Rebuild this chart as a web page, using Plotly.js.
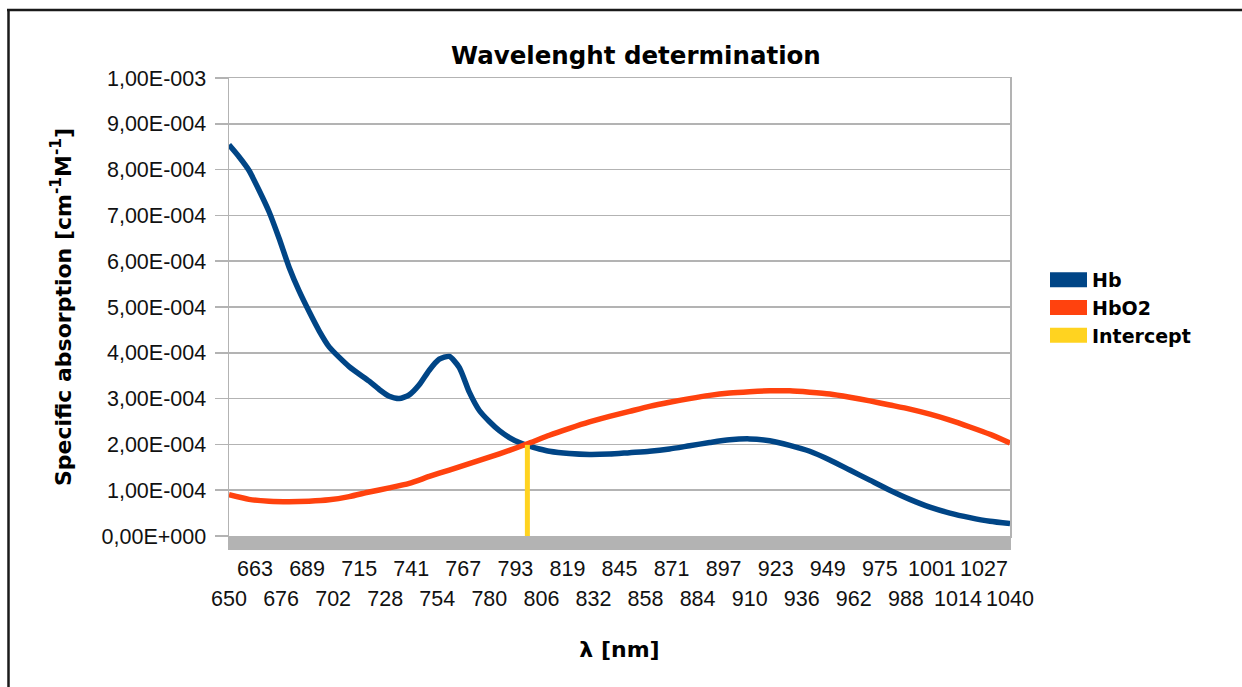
<!DOCTYPE html>
<html>
<head>
<meta charset="utf-8">
<script src="https://cdn.plot.ly/plotly-3.0.1.min.js"></script>
<style>
  html, body { margin: 0; padding: 0; background: #fff; }
  #chart { width: 1242px; height: 687px; }
  .legendlines path { stroke-width: 15px !important; stroke-linecap: butt !important; }
</style>
</head>
<body>
<div id="chart"></div>
<script>
// ---- data ----
const hbWavelength = [650,655,660,665,670,675,680,685,690,695,700,710,720,725,730,735,740,745,750,755,760,765,770,775,780,785,790,795,800,805,810,820,830,840,850,860,870,880,890,900,910,920,930,940,950,960,970,980,990,1000,1010,1020,1030,1040];
const hbValues = [8.54e-4,8.28e-4,7.98e-4,7.55e-4,7.08e-4,6.50e-4,5.87e-4,5.35e-4,4.90e-4,4.48e-4,4.13e-4,3.70e-4,3.38e-4,3.20e-4,3.05e-4,3.00e-4,3.08e-4,3.30e-4,3.62e-4,3.86e-4,3.92e-4,3.68e-4,3.14e-4,2.74e-4,2.50e-4,2.30e-4,2.15e-4,2.04e-4,1.96e-4,1.90e-4,1.85e-4,1.80e-4,1.78e-4,1.79e-4,1.82e-4,1.85e-4,1.90e-4,1.97e-4,2.04e-4,2.10e-4,2.12e-4,2.08e-4,1.98e-4,1.85e-4,1.66e-4,1.44e-4,1.22e-4,1.00e-4,0.80e-4,0.63e-4,0.50e-4,0.40e-4,0.32e-4,0.27e-4];

const hbo2Wavelength = [650,660,670,680,690,700,710,720,730,740,750,760,770,780,790,800,810,820,830,840,850,860,870,880,890,900,910,920,930,940,950,960,970,980,990,1000,1010,1020,1030,1040];
const hbo2Values = [0.90e-4,0.80e-4,0.76e-4,0.75e-4,0.76e-4,0.79e-4,0.86e-4,0.96e-4,1.05e-4,1.15e-4,1.30e-4,1.44e-4,1.58e-4,1.72e-4,1.87e-4,2.03e-4,2.20e-4,2.35e-4,2.49e-4,2.61e-4,2.72e-4,2.83e-4,2.92e-4,3.00e-4,3.07e-4,3.12e-4,3.15e-4,3.17e-4,3.17e-4,3.14e-4,3.10e-4,3.03e-4,2.95e-4,2.86e-4,2.77e-4,2.66e-4,2.53e-4,2.38e-4,2.22e-4,2.03e-4];

const interceptWavelength = [799, 799];
const interceptValues = [0, 1.99e-4];

const yTickValues = [0, 1e-4, 2e-4, 3e-4, 4e-4, 5e-4, 6e-4, 7e-4, 8e-4, 9e-4, 1e-3];
const yTickLabels = ['0,00E+000','1,00E-004','2,00E-004','3,00E-004','4,00E-004','5,00E-004','6,00E-004','7,00E-004','8,00E-004','9,00E-004','1,00E-003'];

const seriesNames = ['Hb', 'HbO2', 'Intercept'];
const seriesColors = ['#004586', '#ff420e', '#ffd320'];

// ---- chart ----
const gridGrey = '#b3b3b3';
const tickFont = { family: 'Liberation Sans, Arial, sans-serif', size: 21.5, color: '#111' };
const boldFont = (s) => ({ family: 'DejaVu Sans, sans-serif', size: s, color: '#000', weight: 700 });

const traces = [
  { x: hbWavelength, y: hbValues, name: seriesNames[0], type: 'scatter', mode: 'lines',
    line: { color: seriesColors[0], width: 5.5, shape: 'spline', smoothing: 0.6 } },
  { x: hbo2Wavelength, y: hbo2Values, name: seriesNames[1], type: 'scatter', mode: 'lines',
    line: { color: seriesColors[1], width: 5.5, shape: 'spline', smoothing: 0.6 } },
  { x: interceptWavelength, y: interceptValues, name: seriesNames[2], type: 'scatter', mode: 'lines',
    xaxis: 'x2', line: { color: seriesColors[2], width: 5 } }
];

const pxX = (p) => (p - 229) / 781;
const pxY = (p) => (536 - p) / 458;

const layout = {
  width: 1242, height: 687,
  margin: { l: 229, r: 232, t: 78, b: 151, pad: 0 },
  paper_bgcolor: '#ffffff', plot_bgcolor: '#ffffff',
  showlegend: true,
  title: { text: 'Wavelenght determination', font: boldFont(24.5),
           x: 0.521, xref: 'paper', xanchor: 'center', y: 1 - 55 / 687, yref: 'container', yanchor: 'middle' },
  xaxis: {
    range: [650, 1040], tickmode: 'linear', tick0: 663, dtick: 26,
    ticks: 'outside', ticklen: 12, tickwidth: 2.5, tickcolor: gridGrey,
    showgrid: false, zeroline: false, showline: true, linecolor: gridGrey, linewidth: 1.5, mirror: true,
    tickfont: tickFont, ticklabelstandoff: 1,
    minor: { tick0: 650, dtick: 1, ticks: 'outside', ticklen: 12, tickwidth: 2.5, tickcolor: gridGrey, showgrid: false },
    title: { text: 'λ [nm]', font: boldFont(22), standoff: 61 }
  },
  xaxis2: {
    overlaying: 'x', anchor: 'y', side: 'bottom',
    range: [650, 1040], tickmode: 'linear', tick0: 650, dtick: 26,
    ticks: '', showgrid: false, zeroline: false, showline: false,
    tickfont: tickFont, ticklabelstandoff: 47
  },
  yaxis: {
    range: [0, 1e-3], tickmode: 'array', tickvals: yTickValues, ticktext: yTickLabels,
    ticks: 'outside', ticklen: 13, tickwidth: 1.5, tickcolor: gridGrey,
    showgrid: true, gridcolor: gridGrey, gridwidth: 1.5,
    zeroline: false, showline: true, linecolor: gridGrey, linewidth: 1.5, mirror: true,
    tickfont: tickFont, ticklabelstandoff: 4,
    title: { text: 'Specific absorption [cm<sup>-1</sup>M<sup>-1</sup>]', font: boldFont(22), standoff: 24 }
  },
  legend: {
    x: pxX(1045), xanchor: 'left', y: pxY(261), yanchor: 'top', itemwidth: 37,
    font: boldFont(19), bgcolor: 'rgba(0,0,0,0)', borderwidth: 0, tracegroupgap: 0
  },
  shapes: [
    { type: 'line', xref: 'paper', yref: 'paper', x0: pxX(8.5), x1: pxX(8.5), y0: pxY(10), y1: pxY(690),
      line: { color: '#1a1a1a', width: 2.5 } },
    { type: 'line', xref: 'paper', yref: 'paper', x0: pxX(7), x1: pxX(1245), y0: pxY(10), y1: pxY(10),
      line: { color: '#1a1a1a', width: 2.5 } }
  ]
};

Plotly.newPlot('chart', traces, layout, { staticPlot: true, displayModeBar: false });
</script>
</body>
</html>
